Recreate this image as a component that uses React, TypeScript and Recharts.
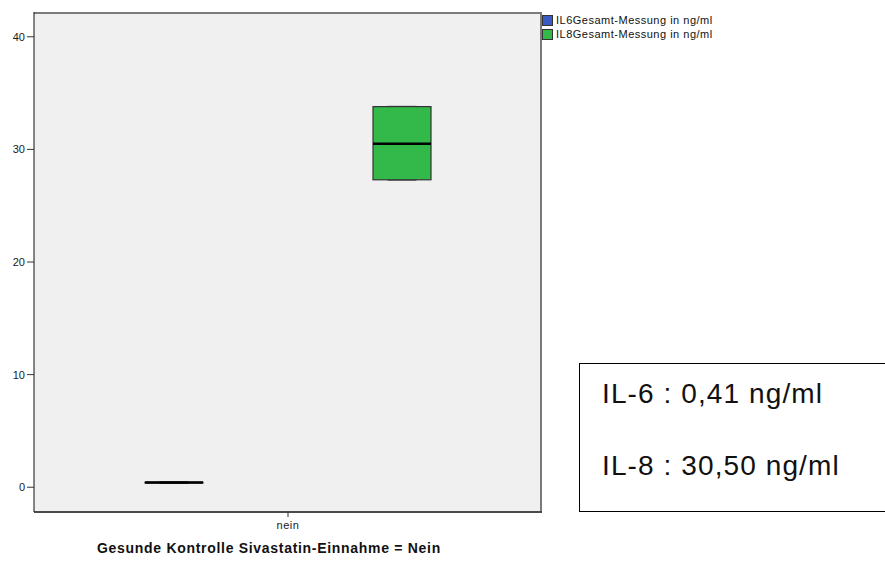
import { ComposedChart, Bar, XAxis, YAxis } from 'recharts'

// one group on the x axis, two box plots inside it
const CATEGORIES = ['nein']
// min, q1, median, q3, max
const IL6_BOX = [0.36, 0.38, 0.41, 0.44, 0.46]
const IL8_BOX = [27.3, 27.3, 30.5, 33.8, 33.8]
const Y_TICKS = [0, 10, 20, 30, 40]
const SERIES_NAMES = ['IL6Gesamt-Messung in ng/ml', 'IL8Gesamt-Messung in ng/ml']
const SERIES_COLORS = ['#3b5bc4', '#33b84a']
const NOTE_LINES = ['IL-6 : 0,41 ng/ml', 'IL-8 : 30,50 ng/ml']
const X_TITLE = 'Gesunde Kontrolle Sivastatin-Einnahme = Nein'

const data = CATEGORIES.map(name => ({
  name,
  il6: [IL6_BOX[0], IL6_BOX[4]],
  il6Stats: IL6_BOX,
  il8: [IL8_BOX[0], IL8_BOX[4]],
  il8Stats: IL8_BOX,
}))

const makeBox = (statsKey: string, fill: string) => (props: any) => {
  const { x, y, width, height, payload } = props
  const [min, q1, med, q3, max] = payload[statsKey] as number[]
  // bar spans min..max, so pixels per unit come from the bar itself
  const k = height / (max - min)
  const py = (v: number) => y + (max - v) * k
  const cx = x + width / 2
  const cap = width / 4
  return (
    <g>
      <line x1={cx} x2={cx} y1={py(max)} y2={py(q3)} stroke="#333" />
      <line x1={cx} x2={cx} y1={py(q1)} y2={py(min)} stroke="#333" />
      <line x1={cx - cap} x2={cx + cap} y1={py(max)} y2={py(max)} stroke="#222" strokeWidth={1.5} />
      <line x1={cx - cap} x2={cx + cap} y1={py(min)} y2={py(min)} stroke="#222" strokeWidth={1.5} />
      <rect x={x} y={py(q3)} width={width} height={py(q1) - py(q3)} fill={fill} stroke="#333" strokeWidth={1.2} />
      <line x1={x} x2={x + width} y1={py(med)} y2={py(med)} stroke="#000" strokeWidth={2.5} />
    </g>
  )
}

export default function App() {
  return (
    <div style={{ position: 'absolute', left: 0, top: 0, width: 885, height: 562, overflow: 'hidden', background: '#fff', fontFamily: 'Arial, "Liberation Sans", sans-serif' }}>
      {/* plot background and frame */}
      <div style={{ position: 'absolute', left: 34, top: 12, width: 508, height: 500, boxSizing: 'border-box', background: '#f0f0f0', borderTop: '2px solid #7a7a7a', borderRight: '2px solid #7a7a7a' }} />
      <div style={{ position: 'absolute', left: 0, top: 0 }}>
        <ComposedChart width={885} height={562} data={data} margin={{ top: 12, right: 343, bottom: 0, left: 0 }} barSize={58} barGap={170}>
          <XAxis dataKey="name" height={50} tickSize={5} tickMargin={4} axisLine={{ stroke: '#4a4a4a', strokeWidth: 2 }} tickLine={{ stroke: '#333' }} tick={{ fontSize: 11, fill: '#1a1a1a', letterSpacing: 0.5 }} />
          <YAxis width={34} type="number" domain={[-2.2, 42.2]} ticks={Y_TICKS} tickSize={7} axisLine={{ stroke: '#111' }} tickLine={{ stroke: '#333' }} tick={{ fontSize: 11, fill: '#1a1a1a' }} />
          <Bar dataKey="il6" isAnimationActive={false} shape={makeBox('il6Stats', SERIES_COLORS[0])} />
          <Bar dataKey="il8" isAnimationActive={false} shape={makeBox('il8Stats', SERIES_COLORS[1])} />
        </ComposedChart>
      </div>
      {/* legend */}
      <div style={{ position: 'absolute', left: 542, top: 13 }}>
        {SERIES_NAMES.map((n, i) => (
          <div key={n} style={{ display: 'flex', alignItems: 'center', height: 14 }}>
            <div style={{ width: 11, height: 11, boxSizing: 'border-box', background: SERIES_COLORS[i], border: '1px solid #333' }} />
            <span style={{ marginLeft: 3, fontSize: 11, letterSpacing: 0.5, color: '#111' }}>{n}</span>
          </div>
        ))}
      </div>
      {/* x axis title */}
      <div style={{ position: 'absolute', left: 97, top: 540, fontSize: 14, fontWeight: 'bold', letterSpacing: 0.7, color: '#111', whiteSpace: 'nowrap' }}>{X_TITLE}</div>
      {/* note box */}
      <div style={{ position: 'absolute', left: 579, top: 363, width: 330, height: 149, boxSizing: 'border-box', border: '1px solid #000', background: '#fff' }}>
        {NOTE_LINES.map((t, i) => (
          <div key={t} style={{ position: 'absolute', left: 22, top: 14 + i * 72, fontSize: 28, letterSpacing: 1.1, color: '#111', whiteSpace: 'nowrap' }}>{t}</div>
        ))}
      </div>
    </div>
  )
}
